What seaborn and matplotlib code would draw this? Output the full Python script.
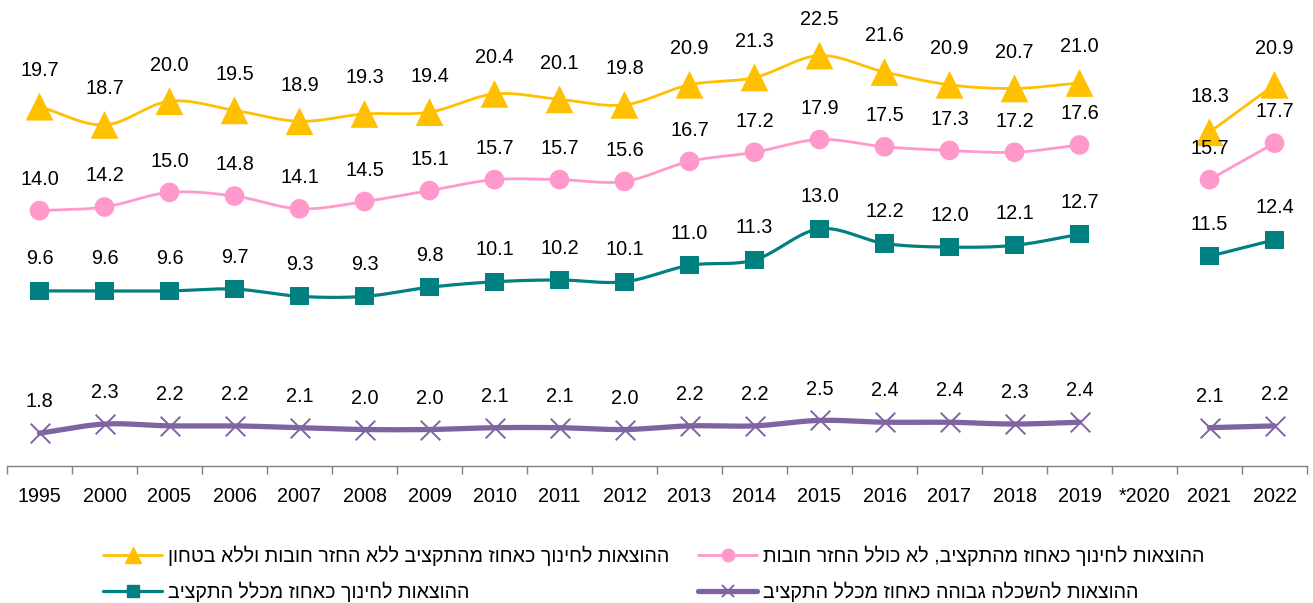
import numpy as np
import matplotlib
matplotlib.use("Agg")
import matplotlib.pyplot as plt
from matplotlib.lines import Line2D
import seaborn as sns

# ---- data ----
years = ["1995", "2000", "2005", "2006", "2007", "2008", "2009", "2010", "2011", "2012",
         "2013", "2014", "2015", "2016", "2017", "2018", "2019", "*2020", "2021", "2022"]
edu_no_debt_no_defense = [19.7, 18.7, 20.0, 19.5, 18.9, 19.3, 19.4, 20.4, 20.1, 19.8,
                          20.9, 21.3, 22.5, 21.6, 20.9, 20.7, 21.0, np.nan, 18.3, 20.9]
edu_no_debt = [14.0, 14.2, 15.0, 14.8, 14.1, 14.5, 15.1, 15.7, 15.7, 15.6,
               16.7, 17.2, 17.9, 17.5, 17.3, 17.2, 17.6, np.nan, 15.7, 17.7]
edu_total = [9.6, 9.6, 9.6, 9.7, 9.3, 9.3, 9.8, 10.1, 10.2, 10.1,
             11.0, 11.3, 13.0, 12.2, 12.0, 12.1, 12.7, np.nan, 11.5, 12.4]
higher_ed_total = [1.8, 2.3, 2.2, 2.2, 2.1, 2.0, 2.0, 2.1, 2.1, 2.0,
                   2.2, 2.2, 2.5, 2.4, 2.4, 2.3, 2.4, np.nan, 2.1, 2.2]

labels = [
    "ההוצאות לחינוך כאחוז מהתקציב ללא החזר חובות וללא בטחון",
    "ההוצאות לחינוך כאחוז מהתקציב, לא כולל החזר חובות",
    "ההוצאות לחינוך כאחוז מכלל התקציב",
    "ההוצאות להשכלה גבוהה כאחוז מכלל התקציב",
]


def vis(s):
    # matplotlib has no bidi support: reverse Hebrew to visual order
    return s[::-1]


sns.set_style("white")
plt.rcParams["font.family"] = ["Liberation Sans", "DejaVu Sans"]

fig = plt.figure(figsize=(13.13, 6.03), dpi=100)
ax = fig.add_axes([7 / 1313, 137 / 603, 1300 / 1313, 456 / 603])

x = np.arange(len(years))


def catmull_rom(xs, ys, n=20):
    xs = np.asarray(xs, float)
    ys = np.asarray(ys, float)
    if len(xs) < 3:
        return xs, ys
    px = np.concatenate([[2 * xs[0] - xs[1]], xs, [2 * xs[-1] - xs[-2]]])
    py = np.concatenate([[2 * ys[0] - ys[1]], ys, [2 * ys[-1] - ys[-2]]])
    ox, oy = [], []
    t = np.linspace(0, 1, n, endpoint=False)
    for i in range(1, len(px) - 2):
        p0, p1, p2, p3 = (np.array([px[j], py[j]]) for j in range(i - 1, i + 3))
        b0 = p1
        b1 = p1 + (p2 - p0) / 6
        b2 = p2 - (p3 - p1) / 6
        b3 = p2
        pts = ((1 - t) ** 3)[:, None] * b0 + (3 * (1 - t) ** 2 * t)[:, None] * b1 + \
              (3 * (1 - t) * t ** 2)[:, None] * b2 + (t ** 3)[:, None] * b3
        ox.extend(pts[:, 0]); oy.extend(pts[:, 1])
    ox.append(xs[-1]); oy.append(ys[-1])
    return np.array(ox), np.array(oy)


series = [
    (edu_no_debt_no_defense, "#FFC000", "^", 400, 2.0, 26, 0),
    (edu_no_debt, "#FF99CC", "o", 200, 2.0, 22.5, 0),
    (edu_total, "#008080", "s", 170, 2.3, 23, 0),
    (higher_ed_total, "#8064A2", "x", 200, 3.8, 22.5, 1.4),
]

for vals, col, mk, s, lw, off, mlw in series:
    v = np.array(vals, float)
    ok = ~np.isnan(v)
    segs = []
    cur = []
    for i in range(len(v)):
        if ok[i]:
            cur.append(i)
        else:
            if cur:
                segs.append(cur)
            cur = []
    if cur:
        segs.append(cur)
    for seg in segs:
        sx, sy = catmull_rom(x[seg], v[seg])
        sns.lineplot(x=sx, y=sy, ax=ax, color=col, lw=lw, sort=False,
                     estimator=None, legend=False, zorder=2)
    if mk == "x":
        ax.scatter(x[ok], v[ok], marker="x", s=s, color=col, linewidths=mlw, zorder=3)
    else:
        sns.scatterplot(x=x[ok], y=v[ok], ax=ax, marker=mk, s=s, color=col,
                        edgecolor="none", linewidth=0, zorder=3, legend=False)
    for xi, yi in zip(x[ok], v[ok]):
        ax.annotate(f"{yi:.1f}", (xi, yi), xytext=(0, off), textcoords="offset points",
                    ha="center", va="center", fontsize=14.3, color="#000000", zorder=4)

ax.set_xlim(-0.5, len(years) - 0.5)
ax.set_ylim(0, 25)
ax.set_xticks(x)
ax.set_xticklabels(years, fontsize=14.2)
ax.set_xticks(np.arange(len(years) + 1) - 0.5, minor=True)
ax.tick_params(axis="x", which="major", length=0, pad=15, labelcolor="#000000")
ax.tick_params(axis="x", which="minor", length=6, width=1, color="#808080", direction="out", bottom=True)
ax.set_yticks([])
for sp in ["left", "right", "top"]:
    ax.spines[sp].set_visible(False)
ax.spines["bottom"].set_color("#808080")
ax.spines["bottom"].set_linewidth(1)
ax.set_xlabel("")
ax.set_ylabel("")

handles = [
    Line2D([], [], color="#FFC000", lw=2, marker="^", ms=11),
    Line2D([], [], color="#008080", lw=2.3, marker="s", ms=8),
    Line2D([], [], color="#FF99CC", lw=2, marker="o", ms=9),
    Line2D([], [], color="#8064A2", lw=3.8, marker="x", ms=8, mew=1.4),
]
leg_labels = [vis(labels[0]), vis(labels[2]), vis(labels[1]), vis(labels[3])]
leg = fig.legend(handles, leg_labels, loc="lower center", bbox_to_anchor=(0.498, -0.027), ncol=2,
                 frameon=False, fontsize=14.1, handlelength=3.0, handletextpad=0.3,
                 columnspacing=1.5, labelspacing=0.78)
for t in leg.get_texts():
    t.set_color("#000000")

fig.savefig("out.png", dpi=100)
